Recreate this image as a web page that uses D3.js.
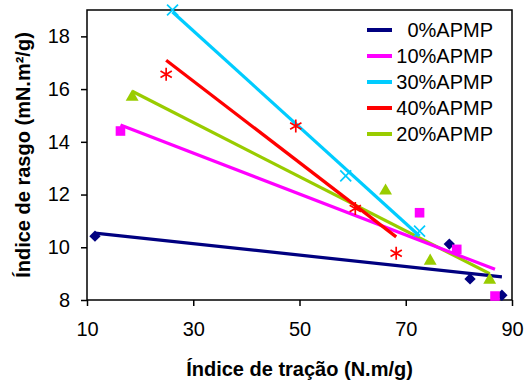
<!DOCTYPE html>
<html>
<head>
<meta charset="utf-8">
<script src="https://cdn.jsdelivr.net/npm/d3@7"></script>
<style>
  body { margin: 0; background: #fff; }
  svg { display: block; font-family: "Liberation Sans", Arial, sans-serif; }
</style>
</head>
<body>
<div id="chart"></div>
<script>
// Dados
var series_names = ['0%APMP', '10%APMP', '30%APMP', '40%APMP', '20%APMP'];
var x_0  = [11.5, 78.2, 82.1, 88.1];
var y_0  = [10.42, 10.12, 8.8, 8.18];
var x_10 = [16.3, 72.6, 79.6, 86.8];
var y_10 = [14.41, 11.31, 9.92, 8.15];
var x_30 = [26.1, 58.7, 72.6];
var y_30 = [19.0, 12.71, 10.61];
var x_40 = [24.9, 49.3, 60.5, 68.2];
var y_40 = [16.56, 14.6, 11.47, 9.77];
var x_20 = [18.5, 66.2, 74.6, 85.8];
var y_20 = [15.7, 12.14, 9.48, 8.76];
var x_ticks = [10, 30, 50, 70, 90];
var y_ticks = [8, 10, 12, 14, 16, 18];

var colors  = ['#000080', '#FF00FF', '#00CCFF', '#FF0000', '#99CC00'];
var symbols = ['diamond', 'square', 'x', 'asterisk', 'triangle'];
var xs = [x_0, x_10, x_30, x_40, x_20];
var ys = [y_0, y_10, y_30, y_40, y_20];

var chart_width  = 526;
var chart_height = 387;
var plot = { left: 87, right: 512, top: 10, bottom: 300 };

var svg = d3.select('#chart')
    .append('svg')
    .attr('width', chart_width)
    .attr('height', chart_height);

// Escalas
var x_scale = d3.scaleLinear().domain([10, 90]).range([plot.left, plot.right]);
var y_scale = d3.scaleLinear().domain([8, 19]).range([plot.bottom, plot.top]);

// Caixa do grafico
svg.append('rect')
    .attr('x', plot.left).attr('y', plot.top)
    .attr('width', plot.right - plot.left)
    .attr('height', plot.bottom - plot.top)
    .attr('fill', 'none').attr('stroke', '#000').attr('stroke-width', 1.5);

// Eixos
var x_axis = svg.append('g')
    .attr('transform', 'translate(0,' + plot.bottom + ')')
    .call(d3.axisBottom(x_scale).tickValues(x_ticks).tickSize(6).tickSizeOuter(0).tickPadding(14));
var y_axis = svg.append('g')
    .attr('transform', 'translate(' + plot.left + ',0)')
    .call(d3.axisLeft(y_scale).tickValues(y_ticks).tickSize(6).tickSizeOuter(0).tickPadding(11));
[x_axis, y_axis].forEach(function(ax){
    ax.select('.domain').remove();
    ax.selectAll('line').attr('stroke', '#000').attr('stroke-width', 1.5);
    ax.selectAll('text').attr('font-size', 20).attr('fill', '#000')
        .attr('font-family', '"Liberation Sans", Arial, sans-serif');
});
x_axis.selectAll('text').attr('dy', '0.71em').attr('y', 22);

// Titulos
svg.append('text')
    .attr('x', (plot.left + plot.right) / 2)
    .attr('y', 376)
    .attr('text-anchor', 'middle')
    .attr('font-size', 20).attr('font-weight', 'bold')
    .text('Índice de tração (N.m/g)');
svg.append('text')
    .attr('transform', 'translate(30,' + (plot.top + plot.bottom) / 2 + ') rotate(-90)')
    .attr('text-anchor', 'middle')
    .attr('font-size', 20).attr('font-weight', 'bold')
    .text('Índice de rasgo (mN.m²/g)');

// Marcadores
function symbol_path(kind) {
    if (kind === 'diamond')  return d3.symbol(d3.symbolSquare, 64)();
    if (kind === 'square')   return d3.symbol(d3.symbolSquare, 92)();
    if (kind === 'triangle') return d3.symbol(d3.symbolTriangle, 72)();
    if (kind === 'x')        return d3.symbol(d3.symbolX, 80)();
    return d3.symbol(d3.symbolAsterisk, 120)();
}

// Linhas de tendencia (regressao linear)
var trend_order = [4, 1, 2, 3, 0];
trend_order.forEach(function(s){
    var xv = xs[s], yv = ys[s];
    var mx = d3.mean(xv), my = d3.mean(yv);
    var sxy = d3.sum(xv, function(d, i){ return (d - mx) * (yv[i] - my); });
    var sxx = d3.sum(xv, function(d){ return (d - mx) * (d - mx); });
    var slope = sxy / sxx;
    var ext = d3.extent(xv);
    svg.append('line')
        .attr('x1', x_scale(ext[0])).attr('y1', y_scale(my + slope * (ext[0] - mx)))
        .attr('x2', x_scale(ext[1])).attr('y2', y_scale(my + slope * (ext[1] - mx)))
        .attr('stroke', colors[s]).attr('stroke-width', 3.2);
});

series_names.forEach(function(name, s){
    var pts = xs[s].map(function(d, i){ return [d, ys[s][i]]; });
    var stroked = symbols[s] === 'x' || symbols[s] === 'asterisk';
    svg.append('g').selectAll('path')
        .data(pts)
        .enter()
        .append('path')
        .attr('d', symbol_path(symbols[s]))
        .attr('transform', function(d){
            var t = 'translate(' + x_scale(d[0]) + ',' + y_scale(d[1]) + ')';
            return symbols[s] === 'diamond' ? t + ' rotate(45)' : t;
        })
        .attr('fill', stroked ? 'none' : colors[s])
        .attr('stroke', stroked ? colors[s] : 'none')
        .attr('stroke-width', 1.7);
});

// Legenda
var legend = svg.append('g').selectAll('g')
    .data(series_names)
    .enter()
    .append('g')
    .attr('transform', function(d, i){ return 'translate(0,' + (30 + i * 26) + ')'; });
legend.append('line')
    .attr('x1', 367).attr('x2', 392).attr('y1', 0).attr('y2', 0)
    .attr('stroke', function(d, i){ return colors[i]; })
    .attr('stroke-width', 4);
legend.append('text')
    .attr('x', 493).attr('y', 7)
    .attr('text-anchor', 'end')
    .attr('font-size', 20)
    .text(function(d){ return d; });
</script>
</body>
</html>
